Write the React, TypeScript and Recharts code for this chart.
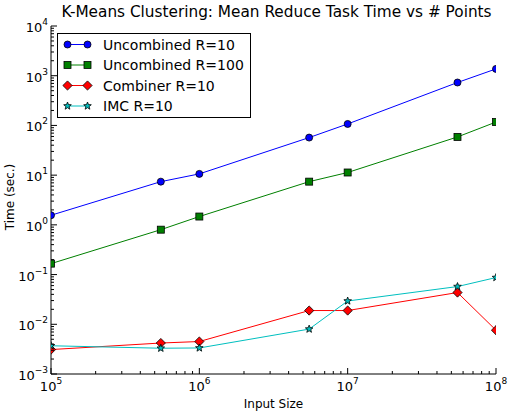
import { LineChart, Line, XAxis, YAxis } from 'recharts'

// input sizes (x) and mean reduce task time in seconds (y)
const inputSizes = [1e5, 5.5e5, 1e6, 5.5e6, 1e7, 5.5e7, 1e8]
const uncombinedR10 = [1.56, 7.4, 10.6, 57, 107, 730, 1370]
const uncombinedR100 = [0.166, 0.8, 1.47, 7.4, 11.3, 58.7, 117]
const combinerR10 = [0.0031, 0.0042, 0.0045, 0.0189, 0.0189, 0.0435, 0.0076]
const imcR10 = [0.0037, 0.0033, 0.00334, 0.008, 0.0294, 0.0574, 0.0871]

const xDecades = [5, 6, 7, 8]
const yDecades = [-3, -2, -1, 0, 1, 2, 3, 4]

type Shape = 'circle' | 'square' | 'diamond' | 'star'

const SERIES: Array<{ key: string; name: string; color: string; shape: Shape; values: number[] }> = [
  { key: 'u10', name: 'Uncombined R=10', color: '#0000ff', shape: 'circle', values: uncombinedR10 },
  { key: 'u100', name: 'Uncombined R=100', color: '#008000', shape: 'square', values: uncombinedR100 },
  { key: 'c10', name: 'Combiner R=10', color: '#ff0000', shape: 'diamond', values: combinerR10 },
  { key: 'imc10', name: 'IMC R=10', color: '#00bfbf', shape: 'star', values: imcR10 },
]

const data = inputSizes.map((n, i) => {
  const row: Record<string, number> = { n }
  SERIES.forEach(s => { row[s.key] = s.values[i] })
  return row
})

// major + minor log ticks
function logTicks(decades: number[]) {
  const out: number[] = []
  decades.forEach((d, i) => {
    out.push(Math.pow(10, d))
    if (i < decades.length - 1) {
      for (let m = 2; m <= 9; m++) out.push(m * Math.pow(10, d))
    }
  })
  return out
}
const xTicks = logTicks(xDecades)
const yTicks = logTicks(yDecades)

const FONT = '"DejaVu Sans", sans-serif'

function Marker({ shape, cx, cy, color }: { shape: Shape; cx: number; cy: number; color: string }) {
  const sw = 0.8
  if (shape === 'circle') return <circle cx={cx} cy={cy} r={3.5} fill={color} stroke="#000" strokeWidth={sw} />
  if (shape === 'square') return <rect x={cx - 3.5} y={cy - 3.5} width={7} height={7} fill={color} stroke="#000" strokeWidth={sw} />
  if (shape === 'diamond') {
    const r = 4.6
    return <polygon points={`${cx},${cy - r} ${cx + r},${cy} ${cx},${cy + r} ${cx - r},${cy}`} fill={color} stroke="#000" strokeWidth={sw} />
  }
  const pts: string[] = []
  for (let k = 0; k < 10; k++) {
    const r = k % 2 === 0 ? 4 : 1.7
    const a = -Math.PI / 2 + (k * Math.PI) / 5
    pts.push(`${cx + r * Math.cos(a)},${cy + r * Math.sin(a)}`)
  }
  return <polygon points={pts.join(' ')} fill={color} stroke="#000" strokeWidth={sw} />
}

function expLabel(v: number) {
  const e = Math.round(Math.log10(v))
  return e < 0 ? `\u2212${-e}` : `${e}`
}

function isMajor(v: number) {
  const l = Math.log10(v)
  return Math.abs(l - Math.round(l)) < 1e-6
}

function LogTick(props: any) {
  const { x, y, payload, side } = props
  const v = payload.value as number
  const major = isMajor(v)
  const len = major ? 6 : 3
  let line
  if (side === 'bottom') line = <line x1={x} y1={y} x2={x} y2={y - len} stroke="#000" />
  else if (side === 'top') line = <line x1={x} y1={y} x2={x} y2={y + len} stroke="#000" />
  else if (side === 'left') line = <line x1={x} y1={y} x2={x + len} y2={y} stroke="#000" />
  else line = <line x1={x} y1={y} x2={x - len} y2={y} stroke="#000" />
  let label = null
  if (major && side === 'bottom') {
    label = (
      <text x={x} y={y + 17} textAnchor="middle" fontSize={13} fill="#000" fontFamily={FONT}>
        <tspan>10</tspan>
        <tspan dy={-7} fontSize={9}>{expLabel(v)}</tspan>
      </text>
    )
  } else if (major && side === 'left') {
    label = (
      <text x={x - 3} y={y + 6} textAnchor="end" fontSize={13} fill="#000" fontFamily={FONT}>
        <tspan>10</tspan>
        <tspan dy={-7} fontSize={9}>{expLabel(v)}</tspan>
      </text>
    )
  }
  return (
    <g>
      {line}
      {label}
    </g>
  )
}

function LegendBox() {
  const rows = [11.5, 32, 52.5, 73]
  return (
    <svg width={194} height={85} style={{ position: 'absolute', left: 56.5, top: 32.5, fontFamily: FONT }}>
      <rect x={0.5} y={0.5} width={193} height={84} fill="#fff" stroke="#000" strokeWidth={1} />
      {SERIES.map((s, i) => (
        <g key={s.key}>
          <line x1={10.5} y1={rows[i]} x2={30.5} y2={rows[i]} stroke={s.color} strokeWidth={1} />
          <Marker shape={s.shape} cx={10.5} cy={rows[i]} color={s.color} />
          <Marker shape={s.shape} cx={30.5} cy={rows[i]} color={s.color} />
          <text x={46} y={rows[i] + 5} fontSize={14} fill="#000">{s.name}</text>
        </g>
      ))}
    </svg>
  )
}

export default function App() {
  return (
    <div style={{ position: 'absolute', left: 0, top: 0, width: 508, height: 414, background: '#fff', fontFamily: FONT }}>
      <LineChart width={508} height={414} data={data} margin={{ top: 26, right: 12, left: 0, bottom: 0 }}>
        <XAxis
          dataKey="n"
          type="number"
          scale="log"
          domain={[1e5, 1e8]}
          allowDataOverflow
          ticks={xTicks}
          interval={0}
          height={40}
          tickSize={0}
          tickMargin={0}
          axisLine={{ stroke: '#000' }}
          tick={(p: any) => <LogTick {...p} side="bottom" />}
          label={{ value: 'Input Size', position: 'insideBottom', offset: 6, fill: '#000', fontSize: 12, fontFamily: FONT }}
        />
        <XAxis
          xAxisId="top"
          orientation="top"
          dataKey="n"
          type="number"
          scale="log"
          domain={[1e5, 1e8]}
          allowDataOverflow
          ticks={xTicks}
          interval={0}
          height={0}
          tickSize={0}
          tickMargin={0}
          axisLine={{ stroke: '#000' }}
          tick={(p: any) => <LogTick {...p} side="top" />}
        />
        <YAxis
          type="number"
          scale="log"
          domain={[1e-3, 1e4]}
          allowDataOverflow
          ticks={yTicks}
          interval={0}
          width={51}
          tickSize={0}
          tickMargin={0}
          axisLine={{ stroke: '#000' }}
          tick={(p: any) => <LogTick {...p} side="left" />}
          label={{ value: 'Time (sec.)', angle: -90, position: 'insideLeft', offset: 10, dy: -3, fill: '#000', fontSize: 12, fontFamily: FONT, style: { textAnchor: 'middle' } }}
        />
        <YAxis
          yAxisId="right"
          orientation="right"
          type="number"
          scale="log"
          domain={[1e-3, 1e4]}
          allowDataOverflow
          ticks={yTicks}
          interval={0}
          width={0}
          tickSize={0}
          tickMargin={0}
          axisLine={{ stroke: '#000' }}
          tick={(p: any) => <LogTick {...p} side="right" />}
        />
        {SERIES.map(s => (
          <Line
            key={s.key}
            dataKey={s.key}
            name={s.name}
            type="linear"
            stroke={s.color}
            strokeWidth={1}
            isAnimationActive={false}
            dot={(p: any) => <Marker key={`${s.key}-${p.index}`} shape={s.shape} cx={p.cx} cy={p.cy} color={s.color} />}
            activeDot={false}
          />
        ))}
      </LineChart>
      <div style={{ position: 'absolute', left: 0, top: 3, width: 508, textAlign: 'center', fontSize: 15.3, color: '#000', pointerEvents: 'none', paddingLeft: 45, boxSizing: 'border-box', whiteSpace: 'nowrap' }}>
        K-Means Clustering: Mean Reduce Task Time vs # Points
      </div>
      <LegendBox />
    </div>
  )
}
